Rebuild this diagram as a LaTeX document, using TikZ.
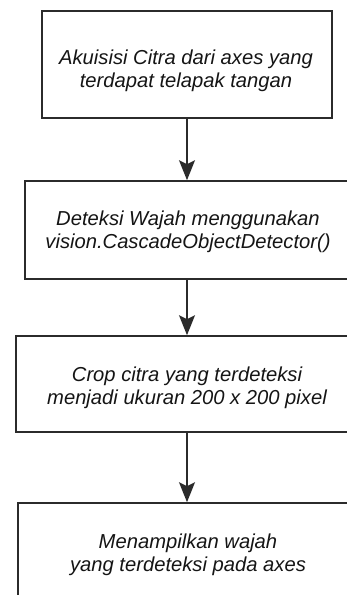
\documentclass[tikz,border=0pt]{standalone}
\usepackage{fontspec}
\setmainfont{Liberation Sans}
\usetikzlibrary{arrows.meta}
\definecolor{edge}{HTML}{2B2B2B}
\definecolor{ink}{HTML}{151515}
\tikzset{
  stepbox/.style={draw=edge, line width=1.6pt, fill=white, inner sep=0pt},
  steptext/.style={text=ink, align=center, inner sep=0pt,
    font=\fontsize{20.2}{23.5}\selectfont\itshape},
  flow/.style={draw=edge, line width=1.6pt,
    -{Stealth[length=20pt, width=16pt, inset=4pt]}}
}
\begin{document}
\begin{tikzpicture}[x=1pt, y=-1pt]
  \useasboundingbox (0,0) rectangle (347,595);
  \clip (0,0) rectangle (347,595);
  \fill[white] (0,0) rectangle (347,595);

  % process boxes
  \node[stepbox, minimum width=290pt, minimum height=107pt] (b1) at (187,64.5) {};
  \node[stepbox, minimum width=324pt, minimum height=98pt]  (b2) at (187,230) {};
  \node[stepbox, minimum width=342pt, minimum height=96pt]  (b3) at (187,384) {};
  \node[stepbox, minimum width=338pt, minimum height=110pt] (b4) at (187,558) {};

  % box captions
  \node[steptext] (t1) at (186,71)  {Akuisisi Citra dari axes yang\\terdapat telapak tangan};
  \node[steptext] (t2) at (188,232) {Deteksi Wajah menggunakan\\vision.CascadeObjectDetector()};
  \node[steptext] (t3) at (187,388) {Crop citra yang terdeteksi\\menjadi ukuran 200 x 200 pixel};
  \node[steptext] (t4) at (188,555) {Menampilkan wajah\\yang terdeteksi pada axes};

  % connectors
  \draw[flow] (b1.south) -- (b2.north);
  \draw[flow] (b2.south) -- (b3.north);
  \draw[flow] (b3.south) -- (b4.north);
\end{tikzpicture}
\end{document}
